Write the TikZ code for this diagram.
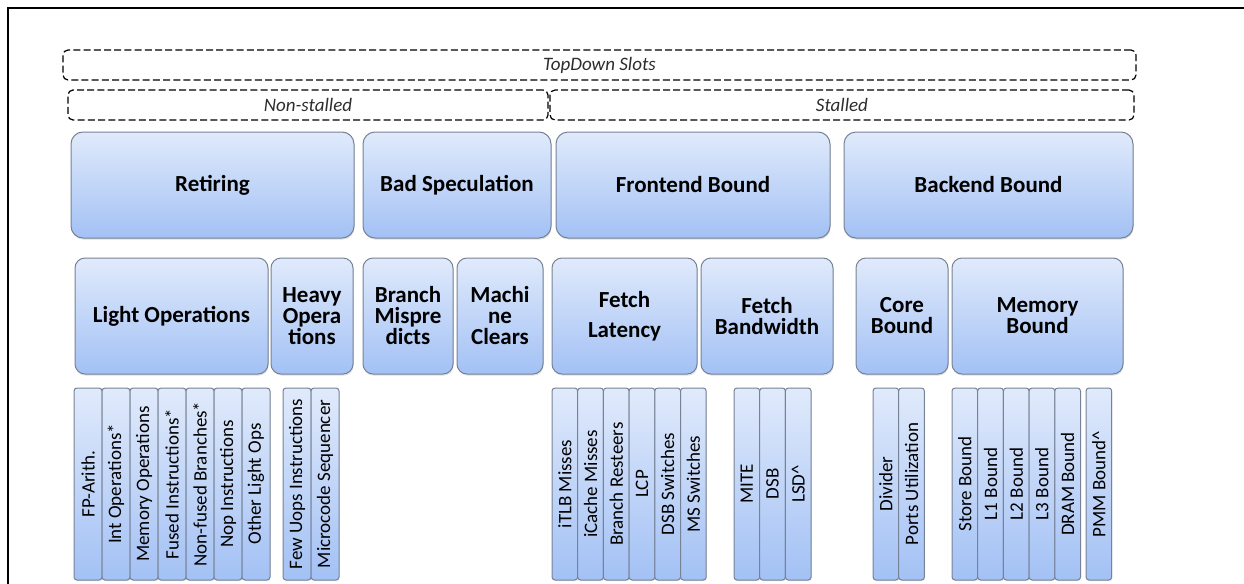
\documentclass[tikz,border=0pt]{standalone}
\usepackage{fontspec}
\setmainfont{Carlito}
\usepackage{tikz}
\usetikzlibrary{positioning,shadows}
\definecolor{blue1}{RGB}{224,234,251}
\definecolor{blue3}{RGB}{163,193,245}
\definecolor{gray2}{RGB}{118,130,150}
\definecolor{ink}{RGB}{45,45,45}
\tikzset{
  slotbox/.style={draw=black, dashed, dash pattern=on 3.5pt off 1.6pt, line width=0.6pt,
    rounded corners=2.5pt, anchor=north west, inner sep=0pt, outer sep=0pt,
    minimum height=15pt, text=ink, font=\itshape\fontsize{9.5}{11}\selectfont},
  catbox/.style={draw=gray2, line width=0.5pt, rounded corners=6pt,
    top color=blue1, bottom color=blue3, anchor=north west, inner sep=0pt, outer sep=0pt,
    minimum height=53pt, align=center, font=\bfseries\fontsize{11.5}{10.5}\selectfont,
    drop shadow={shadow xshift=0.3pt, shadow yshift=-0.8pt, opacity=0.25}},
  subbox/.style={catbox, rounded corners=5pt, minimum height=58pt},
  leafbox/.style={draw=gray2, line width=0.5pt, rounded corners=1.5pt,
    top color=blue1, bottom color=blue3, inner sep=0pt, outer sep=0pt,
    minimum width=14pt, minimum height=96pt, font=\fontsize{9.5}{11}\selectfont,
    drop shadow={shadow xshift=0.3pt, shadow yshift=-0.6pt, opacity=0.2}},
  thinleaf/.style={leafbox, minimum width=12.85pt}
}

\begin{document}
\begin{tikzpicture}[x=0.5pt, y=-0.5pt]
\useasboundingbox (0,0) rectangle (1244,584);
\draw[line width=1.2pt] (8,584) -- (8,8) -- (1244,8);

% slot split
\node[slotbox, minimum width=536.5pt] (slots) at (63,50) {TopDown Slots};
\node[slotbox, minimum width=240pt] (nonstalled) at (68,90) {Non-stalled};
\node[slotbox, minimum width=292pt] (stalled) at (550,90) {Stalled};

% level 1
\node[catbox, minimum width=141.5pt] (ret) at (71,132) {Retiring};
\node[catbox, minimum width=94pt] (badspec) at (363,132) {Bad Speculation};
\node[catbox, minimum width=137pt] (frontend) at (556,132) {Frontend Bound};
\node[catbox, minimum width=144.5pt] (backend) at (844,132) {Backend Bound};

% level 2
\node[subbox, minimum width=96.5pt] (light) at (75,258) {Light Operations};
\node[subbox, minimum width=41pt] (heavy) at (271,258) {Heavy\\Opera\\tions};
\node[subbox, minimum width=45pt] (brmisp) at (363,258) {Branch\\Mispre\\dicts};
\node[subbox, minimum width=43pt] (mclear) at (457,258) {Machi\\ne\\Clears};
\node[subbox, minimum width=72.5pt] (fetchlat) at (552,258) {Fetch\\[4.5pt]Latency};
\node[subbox, minimum width=66pt] (fetchbw) at (701,258) {Fetch\\Bandwidth};
\node[subbox, minimum width=46pt] (core) at (856,258) {Core\\Bound};
\node[subbox, minimum width=85.5pt] (mem) at (952,258) {Memory\\Bound};

% level 3
\node[leafbox, anchor=north west] (fparith) at (74,388) {\rotatebox{90}{FP-Arith.}};
\node[leafbox, right=0pt of fparith] (intops) {\rotatebox{90}{Int Operations*}};
\node[leafbox, right=0pt of intops] (memops) {\rotatebox{90}{Memory Operations}};
\node[leafbox, right=0pt of memops] (fusedins) {\rotatebox{90}{Fused Instructions*}};
\node[leafbox, right=0pt of fusedins] (nonfused) {\rotatebox{90}{Non-fused Branches*}};
\node[leafbox, right=0pt of nonfused] (nopins) {\rotatebox{90}{Nop Instructions}};
\node[leafbox, right=0pt of nopins] (otherops) {\rotatebox{90}{Other Light Ops}};

\node[leafbox, anchor=north west] (fewuops) at (283,388) {\rotatebox{90}{Few Uops Instructions}};
\node[leafbox, right=0pt of fewuops] (microseq) {\rotatebox{90}{Microcode Sequencer}};

\node[thinleaf, anchor=north west] (itlb) at (552,388) {\rotatebox{90}{iTLB Misses}};
\node[thinleaf, right=0pt of itlb] (icache) {\rotatebox{90}{iCache Misses}};
\node[thinleaf, right=0pt of icache] (brresteer) {\rotatebox{90}{Branch Resteers}};
\node[thinleaf, right=0pt of brresteer] (lcp) {\rotatebox{90}{LCP}};
\node[thinleaf, right=0pt of lcp] (dsbsw) {\rotatebox{90}{DSB Switches}};
\node[thinleaf, right=0pt of dsbsw] (mssw) {\rotatebox{90}{MS Switches}};

\node[thinleaf, anchor=north west] (mite) at (734,388) {\rotatebox{90}{MITE}};
\node[thinleaf, right=0pt of mite] (dsb) {\rotatebox{90}{DSB}};
\node[thinleaf, right=0pt of dsb] (lsd) {\rotatebox{90}{LSD\textasciicircum}};

\node[thinleaf, anchor=north west] (divider) at (873,388) {\rotatebox{90}{Divider}};
\node[thinleaf, right=0pt of divider] (ports) {\rotatebox{90}{Ports Utilization}};

\node[thinleaf, anchor=north west] (store) at (952,388) {\rotatebox{90}{Store Bound}};
\node[thinleaf, right=0pt of store] (lone) {\rotatebox{90}{L1 Bound}};
\node[thinleaf, right=0pt of lone] (ltwo) {\rotatebox{90}{L2 Bound}};
\node[thinleaf, right=0pt of ltwo] (lthree) {\rotatebox{90}{L3 Bound}};
\node[thinleaf, right=0pt of lthree] (dram) {\rotatebox{90}{DRAM Bound}};

\node[thinleaf, anchor=north west] (pmm) at (1086,388) {\rotatebox{90}{PMM Bound\textasciicircum}};
\end{tikzpicture}
\end{document}
